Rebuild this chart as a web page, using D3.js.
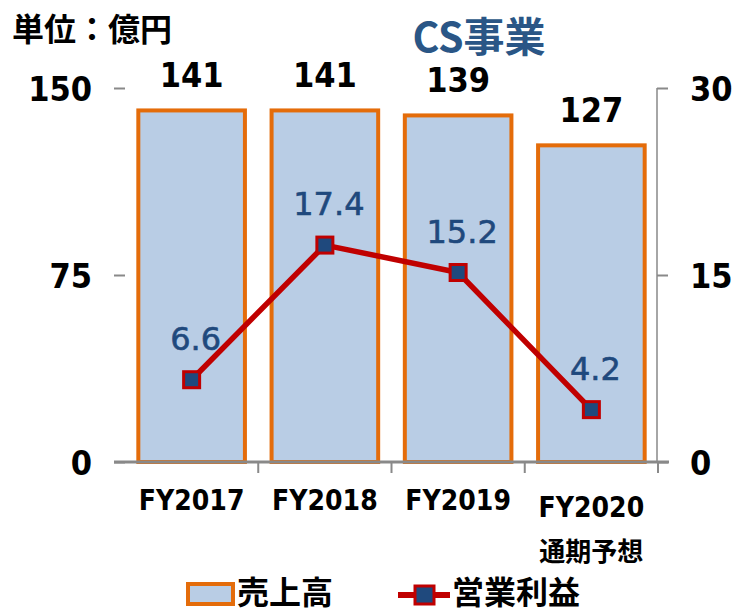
<!DOCTYPE html>
<html><head><meta charset="utf-8">
<script src="https://cdn.jsdelivr.net/npm/d3@7"></script>
<style>
body{margin:0;background:#fff;}
svg{display:block;}
.num{font-family:"DejaVu Sans Condensed","DejaVu Sans",sans-serif;font-stretch:condensed;font-weight:bold;}
.cjk{font-family:"Noto Sans CJK JP","Noto Sans CJK SC",sans-serif;font-weight:bold;}
</style></head>
<body>
<script>
const categories = ["FY2017","FY2018","FY2019","FY2020"];
const subLabels = ["","","","通期予想"];
const sales = [141,141,139,127];
const profit = [6.6,17.4,15.2,4.2];
const leftTicks = [0,75,150];
const rightTicks = [0,15,30];
const title = "CS事業";
const unitLabel = "単位：億円";
const legendLabels = ["売上高","営業利益"];

const W = 735, H = 614;
const svg = d3.select("body").append("svg").attr("width",W).attr("height",H);

const x = d3.scaleBand().domain(categories).range([125,658]).paddingInner(0.2).paddingOuter(0.1);
const yL = d3.scaleLinear().domain([0,150]).range([462,88]);
const yR = d3.scaleLinear().domain([0,30]).range([462,88]);

const gray = "#898989";
// left axis ticks
const gl = svg.append("g").attr("transform","translate(125,0)")
  .call(d3.axisLeft(yL).tickValues(leftTicks).tickSize(11).tickPadding(22));
gl.select(".domain").remove();
gl.selectAll(".tick line").attr("stroke",gray).attr("stroke-width",2);
gl.selectAll(".tick text").attr("class","num").attr("font-size",34).attr("fill","#000").attr("dy","0.36em");

// right axis
const gr = svg.append("g").attr("transform","translate(657,0)")
  .call(d3.axisRight(yR).tickValues(rightTicks).tickSize(11).tickPadding(22));
gr.select(".domain").attr("stroke",gray).attr("stroke-width",1.5).attr("d","M0,88V462");
gr.selectAll(".tick line").attr("stroke",gray).attr("stroke-width",2);
gr.selectAll(".tick text").attr("class","num").attr("font-size",34).attr("fill","#000").attr("dy","0.36em");

// bars
svg.append("g").selectAll("rect").data(sales).join("rect")
  .attr("x",(d,i)=>x(categories[i]))
  .attr("y",d=>yL(d))
  .attr("width",x.bandwidth())
  .attr("height",d=>yL(0)-yL(d))
  .attr("fill","#B9CDE5").attr("stroke","#E46C0A").attr("stroke-width",4);

// bar labels
svg.append("g").selectAll("text").data(sales).join("text")
  .attr("class","num").attr("font-size",34).attr("text-anchor","middle")
  .attr("x",(d,i)=>x(categories[i])+x.bandwidth()/2)
  .attr("y",d=>yL(d)-23)
  .text(d=>d);

// bottom axis
svg.append("line").attr("x1",114).attr("x2",669).attr("y1",462).attr("y2",462).attr("stroke",gray).attr("stroke-width",3);
const bounds = categories.map((c,i)=>x(c)+x.bandwidth()+x.step()*x.paddingInner()/2);
svg.append("g").selectAll("line").data(bounds).join("line")
  .attr("x1",d=>d).attr("x2",d=>d).attr("y1",462).attr("y2",473)
  .attr("stroke",gray).attr("stroke-width",2);

// category labels
svg.append("g").selectAll("text").data(categories).join("text")
  .attr("class","num").attr("font-size",28).attr("text-anchor","middle")
  .attr("x",d=>x(d)+x.bandwidth()/2)
  .attr("y",(d,i)=>subLabels[i] ? 517 : 510)
  .text(d=>d);
svg.append("g").selectAll("text").data(subLabels).join("text")
  .attr("class","cjk").attr("font-size",26).attr("text-anchor","middle")
  .attr("x",(d,i)=>x(categories[i])+x.bandwidth()/2)
  .attr("y",561)
  .text(d=>d);

// profit line
const cx = (d,i)=>x(categories[i])+x.bandwidth()/2;
const line = d3.line().x((d,i)=>cx(d,i)).y(d=>yR(d));
svg.append("path").datum(profit).attr("d",line).attr("fill","none")
  .attr("stroke","#C00000").attr("stroke-width",5.5).attr("stroke-linejoin","round");
svg.append("g").selectAll("rect").data(profit).join("rect")
  .attr("x",(d,i)=>cx(d,i)-8).attr("y",d=>yR(d)-8)
  .attr("width",16).attr("height",16)
  .attr("fill","#1F497D").attr("stroke","#C00000").attr("stroke-width",3);
svg.append("g").selectAll("text").data(profit).join("text")
  .attr("font-family","DejaVu Sans, sans-serif").attr("font-size",32).attr("fill","#1F497D")
  .attr("stroke","#1F497D").attr("stroke-width",0.6)
  .attr("text-anchor","middle")
  .attr("x",(d,i)=>cx(d,i)+4)
  .attr("y",d=>yR(d)-30)
  .text(d=>d.toFixed(1));

// title and unit
svg.append("text").attr("class","cjk").attr("font-size",41).attr("fill","#2A5686")
  .attr("text-anchor","middle").attr("x",479).attr("y",52).text(title);
svg.append("text").attr("class","cjk").attr("font-size",32).attr("fill","#000")
  .attr("x",12).attr("y",41).text(unitLabel);

// legend
const lg = svg.append("g");
lg.append("rect").attr("x",188).attr("y",584).attr("width",45).attr("height",20)
  .attr("fill","#B9CDE5").attr("stroke","#E46C0A").attr("stroke-width",4);
lg.append("text").attr("class","cjk").attr("font-size",32).attr("x",237).attr("y",604).text(legendLabels[0]);
lg.append("line").attr("x1",398).attr("x2",450).attr("y1",595).attr("y2",595)
  .attr("stroke","#C00000").attr("stroke-width",6);
lg.append("rect").attr("x",415).attr("y",586).attr("width",19).attr("height",18)
  .attr("fill","#1F497D").attr("stroke","#C00000").attr("stroke-width",3);
lg.append("text").attr("class","cjk").attr("font-size",32).attr("x",452).attr("y",604).text(legendLabels[1]);
</script>
</body></html>
